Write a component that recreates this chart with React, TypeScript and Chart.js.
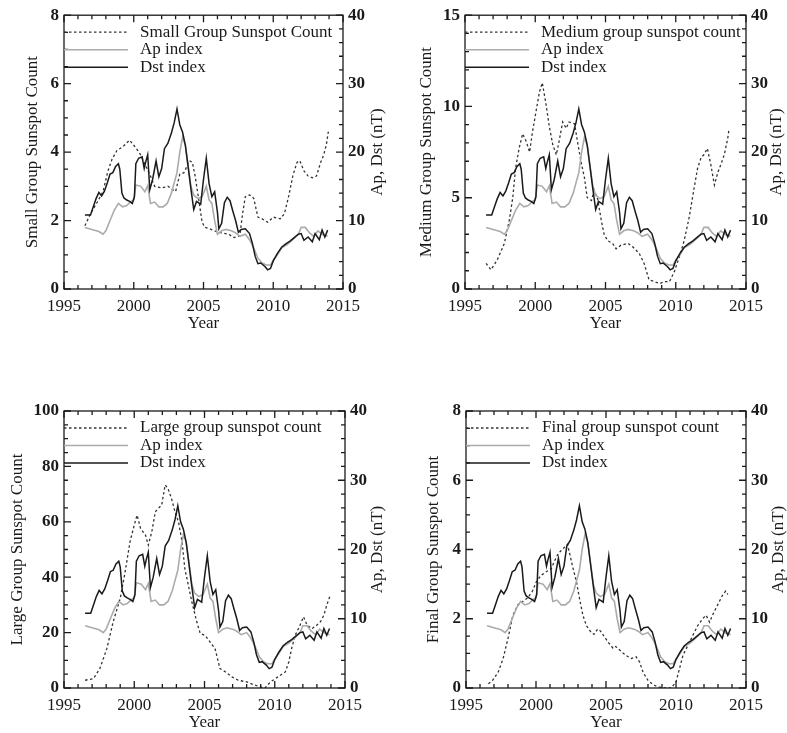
import React, { useEffect, useRef } from 'react';
import { Chart, registerables } from 'chart.js';

Chart.register(...registerables);

const FONT = '"Liberation Serif", "Times New Roman", Times, serif';
const TEXT = '#1a1a1a';

// ---- shared geomagnetic indices (nT, right axis) ----
const dstYears = [1996.5, 1996.9, 1997.1, 1997.3, 1997.5, 1997.7, 1997.9, 1998.1, 1998.3, 1998.5, 1998.7, 1998.9, 1999.0, 1999.15, 1999.3, 1999.5, 1999.7, 1999.9, 2000.05, 2000.15, 2000.35, 2000.6, 2000.75, 2000.85, 2001.0, 2001.15, 2001.35, 2001.6, 2001.8, 2002.0, 2002.2, 2002.45, 2002.7, 2002.9, 2003.1, 2003.3, 2003.5, 2003.7, 2003.9, 2004.1, 2004.3, 2004.5, 2004.8, 2005.0, 2005.2, 2005.4, 2005.6, 2005.8, 2006.0, 2006.1, 2006.3, 2006.5, 2006.7, 2006.9, 2007.1, 2007.3, 2007.5, 2007.7, 2008.0, 2008.3, 2008.5, 2008.7, 2008.9, 2009.1, 2009.4, 2009.6, 2009.8, 2010.0, 2010.3, 2010.6, 2010.9, 2011.2, 2011.5, 2011.8, 2012.0, 2012.2, 2012.5, 2012.8, 2013.0, 2013.3, 2013.5, 2013.7, 2013.9];
const dstValues = [10.8, 10.8, 12.0, 13.2, 14.1, 13.6, 14.3, 15.5, 16.8, 17.0, 17.9, 18.3, 17.5, 14.0, 13.3, 13.0, 12.8, 12.5, 13.5, 18.3, 19.1, 19.3, 17.6, 18.5, 19.6, 14.5, 16.0, 18.7, 16.4, 17.6, 20.5, 21.3, 22.8, 24.3, 26.3, 24.0, 22.9, 21.0, 17.8, 14.6, 11.6, 12.8, 12.4, 16.0, 19.1, 15.4, 13.5, 14.2, 11.2, 8.8, 9.6, 12.6, 13.4, 12.9, 11.4, 10.0, 8.3, 8.7, 8.8, 8.1, 6.7, 4.8, 3.7, 3.8, 3.3, 2.8, 3.0, 4.1, 5.2, 6.1, 6.6, 7.0, 7.5, 8.0, 8.1, 7.1, 7.6, 6.9, 8.1, 7.2, 8.6, 7.6, 8.6];

const apYears = [1996.5, 1997.0, 1997.5, 1997.8, 1998.0, 1998.3, 1998.6, 1998.9, 1999.2, 1999.5, 1999.8, 2000.0, 2000.15, 2000.5, 2000.8, 2001.0, 2001.2, 2001.5, 2001.8, 2002.1, 2002.4, 2002.7, 2002.9, 2003.1, 2003.3, 2003.5, 2003.7, 2003.9, 2004.1, 2004.3, 2004.6, 2004.9, 2005.2, 2005.4, 2005.6, 2005.8, 2006.0, 2006.3, 2006.6, 2007.0, 2007.3, 2007.6, 2008.0, 2008.3, 2008.6, 2008.9, 2009.2, 2009.5, 2009.8, 2010.0, 2010.3, 2010.6, 2011.0, 2011.4, 2011.8, 2012.0, 2012.3, 2012.6, 2012.9, 2013.2, 2013.5, 2013.9];
const apValues = [9.0, 8.7, 8.4, 8.0, 8.5, 10.0, 11.5, 12.5, 12.0, 12.2, 12.8, 13.0, 15.2, 15.0, 14.2, 15.1, 12.5, 12.7, 12.0, 12.0, 12.5, 14.0, 15.5, 17.0, 20.0, 22.2, 21.0, 18.0, 15.0, 13.7, 13.2, 13.5, 15.0, 13.0, 12.5, 10.0, 8.0, 8.5, 8.7, 8.5, 8.2, 7.7, 8.0, 7.2, 6.0, 4.5, 3.8, 3.5, 3.5, 4.2, 5.0, 6.0, 6.5, 7.2, 8.0, 9.0, 9.0, 8.2, 7.7, 8.5, 8.0, 7.7];

// ---- sunspot group counts (left axis) ----
const smallYears = [1996.5, 1996.9, 1997.4, 1997.8, 1998.15, 1998.45, 1998.8, 1999.2, 1999.7, 2000.1, 2000.45, 2000.8, 2001.2, 2001.5, 2002.0, 2002.45, 2002.8, 2003.0, 2003.3, 2003.6, 2004.0, 2004.2, 2004.4, 2004.7, 2004.9, 2005.1, 2005.5, 2005.8, 2006.2, 2006.8, 2007.2, 2007.6, 2007.8, 2008.0, 2008.3, 2008.6, 2008.9, 2009.2, 2009.6, 2010.0, 2010.5, 2010.8, 2011.1, 2011.4, 2011.7, 2011.9, 2012.2, 2012.5, 2012.8, 2013.1, 2013.4, 2013.6, 2013.8, 2013.95];
const smallValues = [1.85, 2.2, 2.55, 2.85, 3.45, 3.8, 4.05, 4.15, 4.35, 4.15, 3.95, 3.65, 3.3, 3.0, 2.95, 3.0, 2.9, 2.85, 3.35, 3.4, 3.75, 3.7, 3.3, 2.5, 1.95, 1.8, 1.75, 1.7, 1.65, 1.6, 1.5, 1.55, 2.2, 2.7, 2.75, 2.65, 2.1, 2.05, 1.95, 2.1, 2.05, 2.2, 2.7, 3.3, 3.7, 3.75, 3.45, 3.3, 3.25, 3.3, 3.7, 3.9, 4.2, 4.6];

const mediumYears = [1996.5, 1996.85, 1997.3, 1997.8, 1998.15, 1998.4, 1998.6, 1998.85, 1999.1, 1999.35, 1999.6, 1999.8, 2000.05, 2000.3, 2000.5, 2000.75, 2001.0, 2001.25, 2001.5, 2001.7, 2001.95, 2002.2, 2002.4, 2002.8, 2003.0, 2003.25, 2003.5, 2003.7, 2004.0, 2004.2, 2004.45, 2004.7, 2004.9, 2005.15, 2005.5, 2005.75, 2006.1, 2006.6, 2006.95, 2007.4, 2007.75, 2008.1, 2008.5, 2008.85, 2009.2, 2009.55, 2009.9, 2010.25, 2010.6, 2010.95, 2011.3, 2011.55, 2011.8, 2012.0, 2012.25, 2012.5, 2012.75, 2013.0, 2013.2, 2013.45, 2013.7, 2013.8];
const mediumValues = [1.4, 1.05, 1.6, 2.5, 3.75, 5.0, 6.6, 7.7, 8.5, 8.1, 7.5, 8.6, 9.7, 10.8, 11.3, 10.2, 8.9, 7.9, 7.35, 8.1, 9.15, 8.8, 9.15, 9.05, 8.1, 7.0, 6.1, 5.0, 4.85, 5.4, 4.9, 3.75, 3.0, 2.65, 2.5, 2.2, 2.4, 2.5, 2.3, 1.95, 1.4, 0.5, 0.4, 0.3, 0.4, 0.4, 0.95, 1.75, 2.65, 3.9, 5.5, 6.6, 7.2, 7.35, 7.7, 6.8, 5.7, 6.4, 6.8, 7.35, 8.25, 8.8];

const largeYears = [1996.5, 1997.1, 1997.55, 1998.05, 1998.5, 1999.0, 1999.35, 1999.7, 2000.0, 2000.2, 2000.45, 2000.8, 2001.0, 2001.25, 2001.5, 2001.7, 2001.95, 2002.2, 2002.4, 2002.65, 2002.9, 2003.15, 2003.4, 2003.6, 2003.85, 2004.1, 2004.45, 2004.7, 2005.05, 2005.4, 2005.75, 2006.1, 2006.5, 2006.95, 2007.4, 2008.0, 2008.5, 2008.95, 2009.3, 2009.7, 2010.05, 2010.4, 2010.75, 2011.0, 2011.2, 2011.45, 2011.8, 2012.05, 2012.3, 2012.65, 2013.0, 2013.25, 2013.5, 2013.7, 2013.95];
const largeValues = [2.8, 3.4, 7.0, 14.2, 23.9, 32.3, 41.9, 52.8, 58.8, 62.4, 57.6, 55.2, 51.6, 56.4, 63.6, 64.8, 66.0, 73.3, 72.0, 68.4, 63.6, 60.0, 52.8, 43.1, 37.1, 31.1, 23.9, 19.6, 19.0, 16.6, 14.2, 7.0, 5.8, 4.0, 2.8, 2.2, 1.2, 0.4, 0.0, 2.2, 3.4, 4.6, 5.8, 9.4, 14.2, 19.0, 22.7, 25.7, 22.7, 21.4, 22.7, 23.9, 26.3, 29.9, 33.5];

const finalYears = [1996.6, 1996.9, 1997.3, 1997.65, 1998.0, 1998.35, 1998.7, 1999.05, 1999.4, 1999.75, 2000.0, 2000.35, 2000.7, 2001.1, 2001.3, 2001.55, 2001.75, 2002.0, 2002.25, 2002.45, 2002.65, 2002.9, 2003.1, 2003.35, 2003.6, 2003.95, 2004.15, 2004.4, 2004.6, 2004.85, 2005.2, 2005.5, 2005.7, 2006.1, 2006.4, 2006.8, 2007.15, 2007.4, 2007.65, 2008.0, 2008.35, 2008.7, 2009.2, 2009.65, 2010.0, 2010.25, 2010.5, 2010.85, 2011.2, 2011.55, 2011.9, 2012.15, 2012.4, 2012.6, 2012.85, 2013.1, 2013.35, 2013.55, 2013.7];
const finalValues = [0.12, 0.22, 0.46, 0.85, 1.43, 2.1, 2.4, 2.5, 2.6, 2.8, 3.05, 3.25, 3.35, 3.45, 3.65, 3.85, 3.95, 4.05, 4.15, 3.8, 3.45, 3.05, 2.6, 2.1, 1.8, 1.6, 1.55, 1.7, 1.65, 1.5, 1.3, 1.15, 1.2, 1.05, 0.95, 0.85, 0.9, 0.75, 0.45, 0.22, 0.1, 0.03, 0.0, 0.0, 0.17, 0.56, 0.95, 1.23, 1.52, 1.8, 2.0, 2.1, 1.9, 2.1, 2.3, 2.5, 2.7, 2.8, 2.7];

// ---- axis ranges / labels ----
const xRange = [1995, 2015];
const rightRange = [0, 40];
const rightTitle = 'Ap, Dst (nT)';
const xTitle = 'Year';
const apLabel = 'Ap index';
const dstLabel = 'Dst index';

const panels = [
  { box: [0, 0, 394, 366], area: [64, 343, 12, 289], ymax: 8, ystep: 2, yminor: 0.5, yTitle: 'Small Group Sunspot Count', label: 'Small Group Sunspot Count', xs: smallYears, ys: smallValues, lPad: 22, rX: 378, xPad: 32 },
  { box: [394, 0, 393, 366], area: [71, 352, 12, 289], ymax: 15, ystep: 5, yminor: 1, yTitle: 'Medium Group Sunspot Count', label: 'Medium group sunspot count', xs: mediumYears, ys: mediumValues, lPad: 22, rX: 383, xPad: 32 },
  { box: [0, 367, 394, 366], area: [64, 345, 44, 321], ymax: 100, ystep: 20, yminor: 5, yTitle: 'Large Group Sunspot Count', label: 'Large group sunspot count', xs: largeYears, ys: largeValues, lPad: 7, rX: 378, xPad: 0 },
  { box: [394, 367, 393, 366], area: [72, 352, 44, 321], ymax: 8, ystep: 2, yminor: 0.5, yTitle: 'Final Group Sunspot Count', label: 'Final group sunspot count', xs: finalYears, ys: finalValues, lPad: 29, rX: 385, xPad: 0 },
];

const pts = (xs: number[], ys: number[]) => xs.map((x, i) => ({ x, y: ys[i] }));

const decorPlugin = {
  id: 'decor',
  afterDraw(chart: any) {
    const o = chart.options.plugins.decor;
    const { ctx } = chart;
    const { left, right, top, bottom } = chart.chartArea;
    const sx = chart.scales.x;
    const sy = chart.scales.y;
    const sy2 = chart.scales.y2;
    ctx.save();
    ctx.setLineDash([]);
    ctx.strokeStyle = TEXT;
    ctx.lineWidth = 1.3;
    ctx.strokeRect(left, top, right - left, bottom - top);
    ctx.beginPath();
    const tickLoop = (scale: any, minor: number, major: number, draw: (p: number, len: number) => void) => {
      const n = Math.round((scale.max - scale.min) / minor);
      for (let i = 0; i <= n; i++) {
        const v = scale.min + i * minor;
        const r = v / major;
        const isMajor = Math.abs(r - Math.round(r)) < 1e-6;
        draw(scale.getPixelForValue(v), isMajor ? 7 : 4);
      }
    };
    tickLoop(sx, 1, 5, (p, len) => {
      ctx.moveTo(p, bottom); ctx.lineTo(p, bottom - len);
      ctx.moveTo(p, top); ctx.lineTo(p, top + len);
    });
    tickLoop(sy, o.yminor, o.ystep, (p, len) => {
      ctx.moveTo(left, p); ctx.lineTo(left + len, p);
    });
    tickLoop(sy2, 2, 10, (p, len) => {
      ctx.moveTo(right, p); ctx.lineTo(right - len, p);
    });
    ctx.stroke();

    // right axis title, rotated like the left one
    ctx.fillStyle = TEXT;
    ctx.font = `17px ${FONT}`;
    ctx.textAlign = 'center';
    ctx.textBaseline = 'middle';
    ctx.save();
    ctx.translate(o.rX, (top + bottom) / 2);
    ctx.rotate(-Math.PI / 2);
    ctx.fillText(o.rightTitle, 0, 0);
    ctx.restore();

    // legend inside the plot, top-left
    ctx.textAlign = 'left';
    chart.data.datasets.forEach((ds: any, i: number) => {
      const y = top + 17 + i * 17.5;
      ctx.beginPath();
      ctx.strokeStyle = ds.borderColor;
      ctx.lineWidth = ds.borderWidth;
      ctx.setLineDash(ds.borderDash || []);
      ctx.moveTo(left, y);
      ctx.lineTo(left + 64, y);
      ctx.stroke();
      ctx.setLineDash([]);
      ctx.fillStyle = TEXT;
      ctx.fillText(ds.label, left + 76, y);
    });
    ctx.restore();
  },
};

function Panel({ cfg }: { cfg: any }) {
  const ref = useRef<HTMLCanvasElement | null>(null);
  useEffect(() => {
    if (!ref.current) return;
    const [, , W, H] = cfg.box;
    const [L, R, T, B] = cfg.area;
    const xTickFont = { family: FONT, size: 17 };
    const yTickFont = { family: FONT, size: 17, weight: 'bold' };
    const titleFont = { family: FONT, size: 17 };
    const chart = new Chart(ref.current, {
      type: 'line',
      data: {
        datasets: [
          { label: cfg.label, data: pts(cfg.xs, cfg.ys), yAxisID: 'y', borderColor: '#333333', borderWidth: 1.3, borderDash: [2.5, 2.5], pointRadius: 0, fill: false, tension: 0, order: 3 },
          { label: apLabel, data: pts(apYears, apValues), yAxisID: 'y2', borderColor: '#ababab', borderWidth: 1.6, pointRadius: 0, fill: false, tension: 0, order: 2 },
          { label: dstLabel, data: pts(dstYears, dstValues), yAxisID: 'y2', borderColor: '#1a1a1a', borderWidth: 1.5, pointRadius: 0, fill: false, tension: 0, order: 1 },
        ],
      },
      options: {
        animation: false,
        responsive: false,
        maintainAspectRatio: false,
        devicePixelRatio: 1,
        events: [],
        layout: { padding: { top: T, left: 0, right: 0, bottom: 0 } },
        plugins: {
          legend: { display: false },
          tooltip: { enabled: false },
          decor: { yminor: cfg.yminor, ystep: cfg.ystep, rX: cfg.rX, rightTitle },
        } as any,
        scales: {
          x: {
            type: 'linear', position: 'bottom', min: xRange[0], max: xRange[1],
            grid: { display: false, drawTicks: false }, border: { display: false },
            ticks: { stepSize: 5, autoSkip: false, maxRotation: 0, padding: 7, color: TEXT, font: xTickFont, callback: (v: any) => String(v) },
            title: { display: true, text: xTitle, color: TEXT, font: titleFont, padding: { top: 0, bottom: cfg.xPad } },
            afterFit: (s: any) => { s.height = H - B; },
          },
          y: {
            type: 'linear', position: 'left', min: 0, max: cfg.ymax,
            grid: { display: false, drawTicks: false }, border: { display: false },
            ticks: { stepSize: cfg.ystep, autoSkip: false, padding: 5, color: TEXT, font: yTickFont },
            title: { display: true, text: cfg.yTitle, color: TEXT, font: titleFont, padding: { top: cfg.lPad, bottom: 0 } },
            afterFit: (s: any) => { s.width = L; },
          },
          y2: {
            type: 'linear', position: 'right', min: rightRange[0], max: rightRange[1],
            grid: { display: false, drawTicks: false }, border: { display: false },
            ticks: { stepSize: 10, autoSkip: false, padding: 5, color: TEXT, font: yTickFont },
            afterFit: (s: any) => { s.width = W - R; },
          },
        },
      } as any,
      plugins: [decorPlugin],
    });
    return () => chart.destroy();
  }, [cfg]);
  const [x, y, w, h] = cfg.box;
  return (
    <canvas ref={ref} width={w} height={h} style={{ position: 'absolute', left: x, top: y, width: w, height: h }} />
  );
}

export default function App() {
  return (
    <div style={{ position: 'absolute', left: 0, top: 0, width: 787, height: 733, background: '#fff' }}>
      {panels.map((p, i) => (
        <Panel key={i} cfg={p} />
      ))}
    </div>
  );
}
